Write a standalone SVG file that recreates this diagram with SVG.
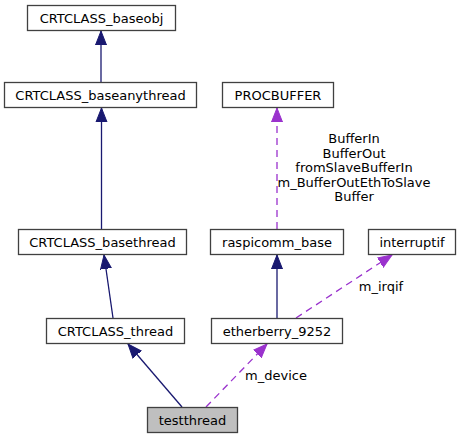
<svg xmlns="http://www.w3.org/2000/svg" width="461" height="440" viewBox="0 0 461 440">
<style>
.node rect{fill:#ffffff;stroke:#404040;stroke-width:1.3}
.node.cur rect{fill:#bfbfbf}
text{font-family:"DejaVu Sans","Liberation Sans",sans-serif;font-size:13px;fill:#000;text-anchor:middle}
.inh{stroke:#191970;stroke-width:1.3;fill:none}
.use{stroke:#9a32cd;stroke-width:1.3;fill:none;stroke-dasharray:7,5}
</style>
<defs>
<marker id="aN" markerUnits="userSpaceOnUse" markerWidth="16" markerHeight="14" viewBox="0 -7 16 14" refX="14" refY="0" orient="auto">
<path d="M0,-5.5 L14,0 L0,5.5 Z" fill="#191970" stroke="#191970" stroke-width="1"/>
</marker>
<marker id="aP" markerUnits="userSpaceOnUse" markerWidth="16" markerHeight="14" viewBox="0 -7 16 14" refX="14" refY="0" orient="auto">
<path d="M0,-5.5 L14,0 L0,5.5 Z" fill="#9a32cd" stroke="#9a32cd" stroke-width="1"/>
</marker>
</defs>
<g id="connectors">
<path class="inh" d="M101,82 L101,31" marker-end="url(#aN)"/>
<path class="inh" d="M101.5,229 L101.5,108" marker-end="url(#aN)"/>
<path class="inh" d="M113,318 L104,255" marker-end="url(#aN)"/>
<path class="inh" d="M182,407 L128,344" marker-end="url(#aN)"/>
<path class="inh" d="M277,318 L277,255" marker-end="url(#aN)"/>
<path class="use" d="M277,229 L277,108" marker-end="url(#aP)"/>
<path class="use" d="M296,318 L392,255" marker-end="url(#aP)"/>
<path class="use" d="M206,407 L267,344" marker-end="url(#aP)"/>
<text x="354" y="143">BufferIn</text>
<text x="354" y="157.5">BufferOut</text>
<text x="354" y="172">fromSlaveBufferIn</text>
<text x="354" y="186.5">m_BufferOutEthToSlave</text>
<text x="354" y="201">Buffer</text>
<text x="381" y="291">m_irqif</text>
<text x="276" y="380">m_device</text>
</g>
<g id="CRTCLASS_baseobj" class="node"><rect x="27.5" y="5.5" width="148" height="25"/><text x="101.5" y="22.5">CRTCLASS_baseobj</text></g>
<g id="CRTCLASS_baseanythread" class="node"><rect x="4.5" y="82.5" width="192" height="25"/><text x="100.5" y="99.5">CRTCLASS_baseanythread</text></g>
<g id="PROCBUFFER" class="node"><rect x="222.5" y="82.5" width="111" height="25"/><text x="278" y="99.5">PROCBUFFER</text></g>
<g id="CRTCLASS_basethread" class="node"><rect x="18.5" y="229.5" width="168" height="25"/><text x="102.5" y="246.5">CRTCLASS_basethread</text></g>
<g id="raspicomm_base" class="node"><rect x="210.5" y="229.5" width="133" height="25"/><text x="277" y="246.5">raspicomm_base</text></g>
<g id="interruptif" class="node"><rect x="368.5" y="229.5" width="87" height="25"/><text x="412" y="246.5">interruptif</text></g>
<g id="CRTCLASS_thread" class="node"><rect x="46.5" y="318.5" width="138" height="25"/><text x="115.5" y="335.5">CRTCLASS_thread</text></g>
<g id="etherberry_9252" class="node"><rect x="211.5" y="318.5" width="131" height="25"/><text x="277" y="335.5">etherberry_9252</text></g>
<g id="testthread" class="node cur"><rect x="147.5" y="407.5" width="90" height="25"/><text x="192.5" y="424.5">testthread</text></g>
</svg>
